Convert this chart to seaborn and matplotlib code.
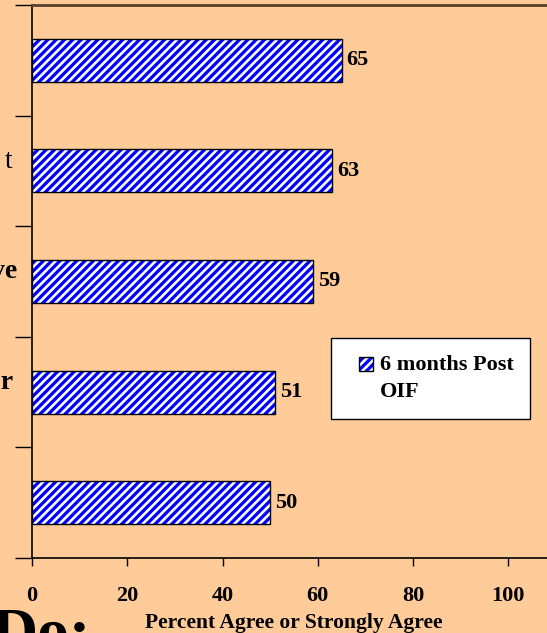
import matplotlib.pyplot as plt
import matplotlib.transforms as mtransforms
import numpy as np
import pandas as pd
import seaborn as sns
from matplotlib.patches import Patch, Rectangle
from matplotlib.legend_handler import HandlerBase

# data
values = [65, 63, 59, 51, 50]
cat_labels = ["", "t", "ve", "or", ""]
cat_weights = ["bold", "normal", "bold", "bold", "bold"]
x_ticks = [0, 20, 40, 60, 80, 100]
series_name = "6 months Post\nOIF"
x_title = "Percent Agree or Strongly Agree"

# right end (pixels) of the cut-off category labels
label_ends = [15, 12, 17, 13, 15]

peach = "#FFCC99"
sns.set_style("white")
plt.rcParams['font.family'] = ['Liberation Serif', 'DejaVu Serif']
plt.rcParams['hatch.linewidth'] = 1.9
plt.rcParams['text.color'] = 'black'
plt.rcParams['axes.labelcolor'] = 'black'
plt.rcParams['xtick.color'] = 'black'
plt.rcParams['ytick.color'] = 'black'


class FirstLineBox(HandlerBase):
    # small hatched square lined up with the first text line
    def create_artists(self, legend, orig_handle, xdescent, ydescent, width, height, fontsize, trans):
        size = 10
        lift = 10.5
        x0 = -xdescent + width - size
        y0 = -ydescent + (height - size) / 2 + lift
        fill = Rectangle((x0, y0), size, size, facecolor='blue', edgecolor='white',
                         linewidth=0, hatch='////', transform=trans)
        edge = Rectangle((x0, y0), size, size, fill=False, edgecolor='black',
                         linewidth=1, transform=trans)
        return [fill, edge]


df = pd.DataFrame({'cat': np.arange(len(values)), 'value': values})

fig = plt.figure(figsize=(5.47, 6.33), dpi=100, facecolor=peach)
ax = fig.add_axes([32 / 547, 75 / 633, 524 / 547, 553 / 633])
ax.set_facecolor(peach)

sns.barplot(data=df, x='value', y='cat', orient='h', width=0.39, color='blue', saturation=1,
            edgecolor='white', linewidth=0, hatch='////', ax=ax)
# black outline on top of the hatched bars
ax.barh(df['cat'], df['value'], height=0.39, fill=False, edgecolor='black', linewidth=1)

ax.bar_label(ax.containers[0], labels=[str(v) for v in values], padding=3.5,
             fontsize=16, fontweight='bold')

ax.set_xlim(0, 110)
ax.set_ylim(len(values) - 0.5, -0.5)
ax.set_xticks(x_ticks)
ax.set_xticklabels([str(t) for t in x_ticks], fontsize=16, fontweight='bold')
ax.tick_params(axis='x', direction='out', length=6, width=1, color='black', pad=14, bottom=True)

# y ticks sit on category boundaries
ax.set_yticks(np.arange(-0.5, len(values) + 0.5, 1))
ax.set_yticklabels([])
ax.tick_params(axis='y', direction='out', length=12, width=1, color='black', left=True)

lab_trans = mtransforms.blended_transform_factory(fig.transFigure, ax.transData)
for i, (lab, w, xe) in enumerate(zip(cat_labels, cat_weights, label_ends)):
    ax.text(xe / 547, i - 0.03, lab, ha='right', va='baseline', fontsize=20,
            fontweight=w, clip_on=False, transform=lab_trans)

ax.set_xlabel(x_title, fontsize=15.5, fontweight='bold', labelpad=5)
ax.set_ylabel("")

for s in ['left', 'bottom']:
    ax.spines[s].set_color('black')
    ax.spines[s].set_linewidth(1.2)
ax.spines['top'].set_color('#5a3f2a')
ax.spines['top'].set_linewidth(2)
ax.spines['right'].set_visible(False)

leg_handle = Patch(facecolor='blue', edgecolor='black', hatch='////')
leg = ax.legend([leg_handle], [series_name], handler_map={Patch: FirstLineBox()},
                loc='upper left', bbox_to_anchor=(331 / 547, 1 - 338 / 633),
                bbox_transform=fig.transFigure, frameon=True, fancybox=False,
                borderpad=0.75, borderaxespad=0, handlelength=1.15, handleheight=0.7,
                handletextpad=0.3, prop={'size': 16, 'weight': 'bold'})
leg.get_texts()[0].set_linespacing(1.5)
leg.get_frame().set_facecolor('white')
leg.get_frame().set_edgecolor('black')
leg.get_frame().set_linewidth(1)
leg.get_frame().set_alpha(1)

fig.text(-8 / 547, 1 - 652 / 633, "Do:", fontsize=46, fontweight='bold',
         ha='left', va='baseline')

fig.savefig('out.png', dpi=100, facecolor=peach)
